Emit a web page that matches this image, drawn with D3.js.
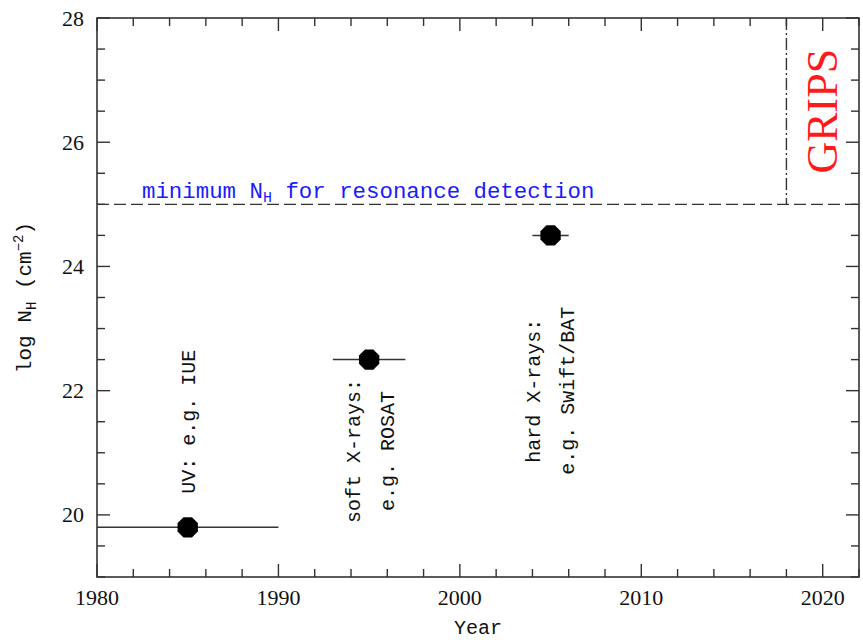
<!DOCTYPE html>
<html>
<head>
<meta charset="utf-8">
<script src="https://cdn.jsdelivr.net/npm/d3@7"></script>
<style>
  body { margin: 0; background: #fff; }
  svg { display: block; }
</style>
</head>
<body>
<svg id="chart" width="863" height="640"></svg>
<script>
// ---- data ----
const categories = ["UV", "soft X-rays", "hard X-rays"];
const years = [1985, 1995, 2005];
const logNH = [19.8, 22.5, 24.5];
const yearLow = [1980, 1993, 2004];
const yearHigh = [1990, 1997, 2006];
const labelLine1 = ["UV: e.g. IUE", "soft X-rays:", "hard X-rays:"];
const labelLine2 = ["", "e.g. ROSAT", "e.g. Swift/BAT"];
const labelCenterY = [21.5, 21.03, 22.0];
const thresholdNH = 25;
const gripsYear = 2018;
const xTicks = [1980, 1990, 2000, 2010, 2020];
const yTicks = [20, 22, 24, 26, 28];

// ---- layout ----
const svg = d3.select("#chart");
const mLeft = 97, mRight = 859, mTop = 18, mBottom = 577;
const x = d3.scaleLinear().domain([1980, 2022]).range([mLeft, mRight]);
const y = d3.scaleLinear().domain([19, 28]).range([mBottom, mTop]);
const axisColor = "#333";

const g = svg.append("g");

// frame
g.append("rect").attr("x", mLeft).attr("y", mTop)
  .attr("width", mRight - mLeft).attr("height", mBottom - mTop)
  .attr("fill", "none").attr("stroke", axisColor).attr("stroke-width", 1.6);

// ticks (inward, all four sides)
const xMinor = d3.range(1980, 2023, 2).filter(v => !xTicks.includes(v));
const yMinor = d3.range(19, 28.01, 0.5).filter(v => !yTicks.includes(v));
function drawTicks(vals, len) {
  vals.forEach(v => {
    g.append("line").attr("x1", x(v)).attr("x2", x(v)).attr("y1", mBottom).attr("y2", mBottom - len)
      .attr("stroke", axisColor).attr("stroke-width", 1.4);
    g.append("line").attr("x1", x(v)).attr("x2", x(v)).attr("y1", mTop).attr("y2", mTop + len)
      .attr("stroke", axisColor).attr("stroke-width", 1.4);
  });
}
function drawYTicks(vals, len) {
  vals.forEach(v => {
    g.append("line").attr("x1", mLeft).attr("x2", mLeft + len).attr("y1", y(v)).attr("y2", y(v))
      .attr("stroke", axisColor).attr("stroke-width", 1.4);
    g.append("line").attr("x1", mRight).attr("x2", mRight - len).attr("y1", y(v)).attr("y2", y(v))
      .attr("stroke", axisColor).attr("stroke-width", 1.4);
  });
}
drawTicks(xTicks, 13);
drawTicks(xMinor, 8);
drawYTicks(yTicks, 13);
drawYTicks(yMinor, 8);

// tick labels
const tickFont = "'Liberation Serif', 'Times New Roman', serif";
g.selectAll(".xl").data(xTicks).enter().append("text")
  .attr("x", d => x(d)).attr("y", 605)
  .attr("text-anchor", "middle").attr("font-family", tickFont).attr("font-size", 22)
  .attr("fill", "#111").text(d => d);
g.selectAll(".yl").data(yTicks).enter().append("text")
  .attr("x", mLeft - 13).attr("y", d => y(d) + 7.5)
  .attr("text-anchor", "end").attr("font-family", tickFont).attr("font-size", 22)
  .attr("fill", "#111").text(d => d);

// axis titles
const monoFont = "'Liberation Mono', 'Courier New', monospace";
g.append("text").attr("x", (mLeft + mRight) / 2).attr("y", 634).attr("text-anchor", "middle")
  .attr("font-family", monoFont).attr("font-size", 20).attr("fill", "#111").text("Year");

const yl = g.append("text").attr("transform", `translate(31,${(mTop + mBottom) / 2}) rotate(-90)`)
  .attr("text-anchor", "middle").attr("font-family", monoFont).attr("font-size", 21).attr("fill", "#111");
yl.append("tspan").text("log N");
yl.append("tspan").attr("font-size", 14).attr("dy", 5).text("H");
yl.append("tspan").attr("dy", -5).text(" (cm");
yl.append("tspan").attr("font-size", 14).attr("dy", -8).text("−2");
yl.append("tspan").attr("dy", 8).text(")");

// threshold dashed line
g.append("line").attr("x1", mLeft).attr("x2", mRight).attr("y1", y(thresholdNH)).attr("y2", y(thresholdNH))
  .attr("stroke", axisColor).attr("stroke-width", 1.4).attr("stroke-dasharray", "12,5");

const tl = g.append("text").attr("x", 142).attr("y", y(thresholdNH) - 6)
  .attr("font-family", monoFont).attr("font-size", 22.4).attr("fill", "#1a1aff");
tl.append("tspan").text("minimum N");
tl.append("tspan").attr("font-size", 15).attr("dy", 4).text("H");
tl.append("tspan").attr("dy", -4).text(" for resonance detection");

// GRIPS dash-dot line
g.append("line").attr("x1", x(gripsYear)).attr("x2", x(gripsYear)).attr("y1", mTop).attr("y2", y(thresholdNH))
  .attr("stroke", axisColor).attr("stroke-width", 1.4).attr("stroke-dasharray", "12,3,2,3");
g.append("text").attr("transform", `translate(837,${y(26.5)}) rotate(-90)`)
  .attr("text-anchor", "middle").attr("font-family", tickFont).attr("font-size", 44)
  .attr("fill", "#ff1a1a").text("GRIPS");

// error bars
g.selectAll(".eb").data(years).enter().append("line")
  .attr("x1", (d, i) => x(yearLow[i])).attr("x2", (d, i) => x(yearHigh[i]))
  .attr("y1", (d, i) => y(logNH[i])).attr("y2", (d, i) => y(logNH[i]))
  .attr("stroke", axisColor).attr("stroke-width", 1.5);

// octagon markers
const r = 11;
const octPts = d3.range(8).map(k => {
  const a = Math.PI / 8 + k * Math.PI / 4;
  return [r * Math.cos(a), r * Math.sin(a)];
});
g.selectAll(".pt").data(years).enter().append("path")
  .attr("transform", (d, i) => `translate(${x(d)},${y(logNH[i])})`)
  .attr("d", d3.line()(octPts) + "Z").attr("fill", "#000");

// annotations
const offsets = [[0], [-16, 18], [-18, 16]];
years.forEach((yr, i) => {
  const cy = y(labelCenterY[i]);
  const lines = labelLine2[i] ? [labelLine1[i], labelLine2[i]] : [labelLine1[i]];
  lines.forEach((txt, j) => {
    const cx = x(yr) + offsets[i][j] + 7;
    g.append("text").attr("transform", `translate(${cx},${cy}) rotate(-90)`)
      .attr("text-anchor", "middle").attr("font-family", monoFont).attr("font-size", 20)
      .attr("fill", "#111").text(txt);
  });
});
</script>
</body>
</html>
